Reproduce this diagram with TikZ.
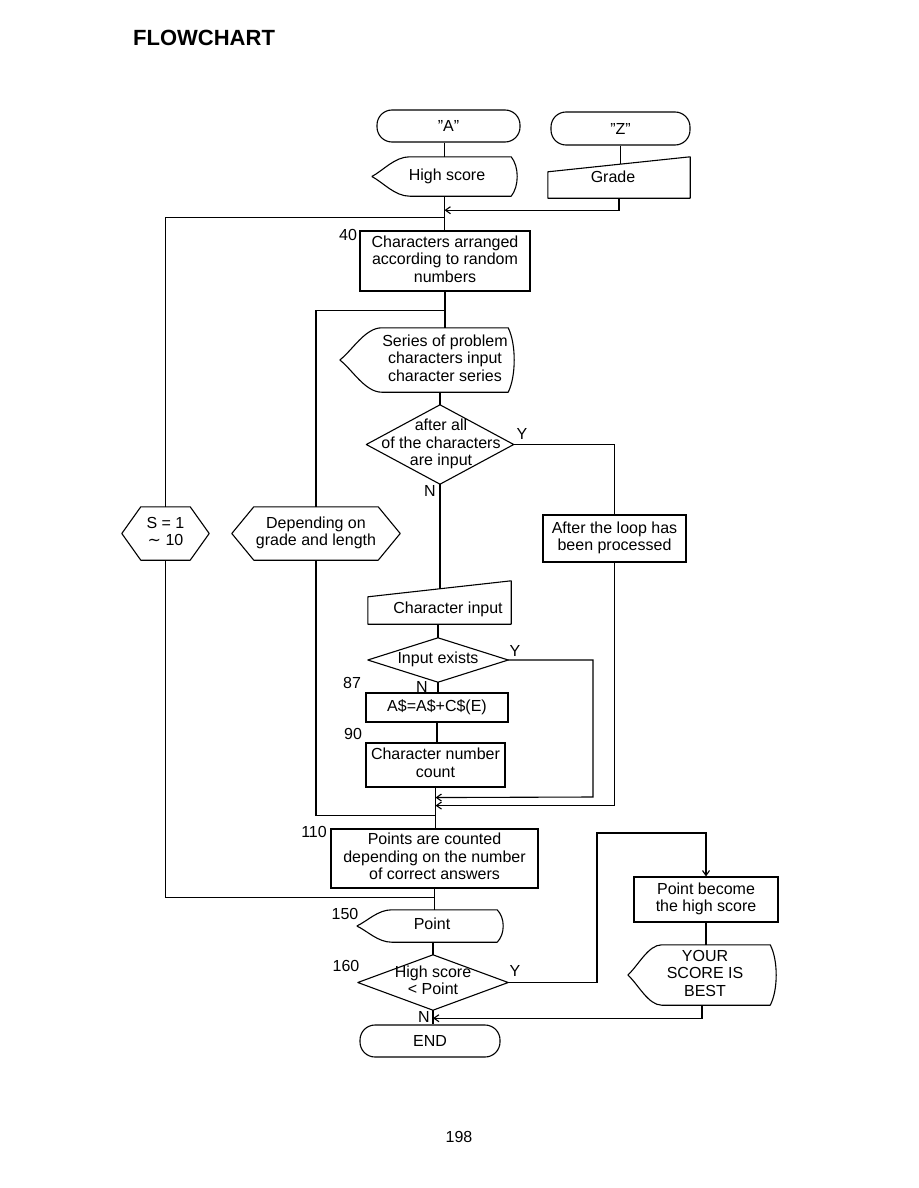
\documentclass[tikz,border=0pt]{standalone}
\usepackage{fontspec}
\setmainfont{Liberation Sans}
\newfontfamily\symfont{DejaVu Sans}
\usetikzlibrary{calc,arrows.meta}
\newcommand\ctext[2]{\hspace*{#1pt}\begin{tabular}{@{}c@{}}#2\end{tabular}}
\newcommand\dispout[2]{%
 \draw[outl] let \p1=(#1.north west), \p2=(#1.south east), \n1={\y1-\y2} in
  (\x1,{(\y1+\y2)/2}) .. controls ({\x1+0.3*#2},{\y1-0.35*\n1}) and ({\x1+0.6*#2},\y1) .. ({\x1+#2},\y1)
  -- ({\x2-6pt},\y1) .. controls ({\x2+2pt},{\y1-0.25*\n1}) and ({\x2+2pt},{\y2+0.25*\n1}) .. ({\x2-6pt},\y2)
  -- ({\x1+#2},\y2) .. controls ({\x1+0.6*#2},\y2) and ({\x1+0.3*#2},{\y2+0.35*\n1}) .. (\x1,{(\y1+\y2)/2});}
\newcommand\hexout[2]{\draw[outl] (#1.west) -- ([xshift=#2]#1.north west) -- ([xshift=-#2]#1.north east) -- (#1.east) -- ([xshift=-#2]#1.south east) -- ([xshift=#2]#1.south west) -- cycle;}
\newcommand\diaout[1]{\draw[outl] (#1.north) -- (#1.east) -- (#1.south) -- (#1.west) -- cycle;}
\newcommand\manout[3]{\draw[outl] (#1.south west) -- ([yshift=#2]#1.north west) -- ([yshift=#3]#1.north east) -- (#1.south east) -- cycle;}
\tikzset{
  every node/.style={font=\fontsize{16}{17.5}\selectfont, inner sep=0pt},
  term/.style={draw, line width=1.1pt, rounded corners=15pt},
  boxn/.style={draw, line width=1.1pt},
  outl/.style={line width=1.1pt, line join=round},
  conn/.style={line width=1.1pt},
  arr/.style={conn, -{Straight Barb[length=5pt,width=7pt]}},
  lbl/.style={font=\fontsize{16}{17.5}\selectfont}
}
\begin{document}
\begin{tikzpicture}[x=1pt,y=-1pt]
\useasboundingbox (0,0) rectangle (918,1188);
\node[anchor=west,font=\fontsize{22}{24}\selectfont\bfseries] (title) at (133,38) {FLOWCHART};

\node[term,minimum width=143,minimum height=32] (A) at (448.5,126) {"A"};
\node[term,minimum width=139,minimum height=33] (Z) at (620.5,128.5) {"Z"};
\node[minimum width=145,minimum height=39] (hs) at (444.5,176.5) {\ctext{5}{High score}};
\dispout{hs}{38pt}
\node[minimum width=142,minimum height=38] (grade) at (619,179) {\ctext{-12}{Grade}};
\manout{grade}{-12pt}{3pt}
\node[boxn,minimum width=170,minimum height=60] (chars) at (445,261) {\ctext{0}{Characters arranged\\according to random\\numbers}};
\node[lbl] (n40) at (348,235) {40};
\node[minimum width=87,minimum height=53] (S) at (165.5,533.5) {\ctext{0}{S = 1\\{\symfont ∼} 10}};
\hexout{S}{19pt}
\node[minimum width=174,minimum height=64] (series) at (427,360) {\ctext{36}{Series of problem\\characters input\\character series}};
\dispout{series}{42pt}
\node[minimum width=168,minimum height=53] (D) at (316,533.5) {\ctext{0}{Depending on\\grade and length}};
\hexout{D}{22pt}
\node[minimum width=147,minimum height=79] (dec1) at (440,444.5) {\ctext{2}{after all\\of the characters\\are input}};
\diaout{dec1}
\node[lbl] (y1) at (522,434) {Y};
\node[lbl] (n1) at (430,491) {N};
\node[boxn,minimum width=143,minimum height=47] (after) at (614.5,538.5) {\ctext{0}{After the loop has\\been processed}};
\node[minimum width=143,minimum height=28] (charin) at (439.5,610) {\ctext{17}{Character input}};
\manout{charin}{-1pt}{15pt}
\node[minimum width=140,minimum height=44] (ie) at (438,660) {\ctext{0}{Input exists}};
\diaout{ie}
\node[lbl] (y2) at (515,651) {Y};
\node[lbl] (n87) at (352,683) {87};
\node[lbl] (n2) at (422,687) {N};
\node[boxn,minimum width=142,minimum height=29] (asn) at (437,707.5) {A\$=A\$+C\$(E)};
\node[lbl] (n90) at (353,734) {90};
\node[boxn,minimum width=139,minimum height=44] (cnt) at (435.5,765) {\ctext{0}{Character number\\count}};
\node[boxn,minimum width=207,minimum height=59] (pts) at (434.5,858.5) {\ctext{0}{Points are counted\\depending on the number\\of correct answers}};
\node[lbl] (n110) at (314,832) {110};
\node[minimum width=146,minimum height=32] (pt) at (430,926) {\ctext{4}{Point}};
\dispout{pt}{35pt}
\node[lbl] (n150) at (345,914) {150};
\node[minimum width=150,minimum height=55] (dec2) at (433,982.5) {\ctext{0}{High score\\< Point}};
\diaout{dec2}
\node[lbl] (n160) at (346,966) {160};
\node[lbl] (y3) at (515,971) {Y};
\node[lbl] (n3) at (424,1017) {N};
\node[boxn,minimum width=144,minimum height=45] (pb) at (706,899.5) {\ctext{0}{Point become\\the high score}};
\node[minimum width=148,minimum height=60] (best) at (702,975) {\ctext{6}{YOUR\\SCORE IS\\BEST}};
\dispout{best}{34pt}
\node[term,minimum width=140,minimum height=32] (END) at (430,1041) {END};
\node[lbl] (page) at (459,1137) {198};

\coordinate (j0) at ($(hs.south)+(0,21)$);
\coordinate (j1) at ($(hs.south)+(0,14)$);
\coordinate (j2) at ($(chars.south)+(0,19)$);
\coordinate (grin) at (620.5,164.3);
\coordinate (ciin) at (440,589);
\coordinate (r1) at (593,797);
\coordinate (j3) at ($(cnt.south)+(0,10)$);
\coordinate (j4) at ($(cnt.south)+(0,18)$);
\coordinate (j5) at ($(cnt.south)+(0,28)$);
\coordinate (j6) at ($(pts.south)+(0,9)$);
\coordinate (r2) at (597,833);
\coordinate (j7) at ($(dec2.south)+(0,8)$);

\draw[conn] (A.south -| hs.north) -- (hs.north);
\draw[conn] (Z.south) -- (grin);
\draw[conn] (hs.south) -- (hs.south |- chars.north);
\draw[arr] (grade.south) |- (j1);
\draw[conn] (j0) -| (S.north);
\draw[conn] (S.south) |- (j6);
\draw[conn] (chars.south) -- (chars.south |- series.north);
\draw[conn] (j2) -| (D.north);
\draw[conn] (D.south) |- (j5);
\draw[conn] (dec1.north |- series.south) -- (dec1.north);
\draw[conn] (dec1.east) -| (after.north);
\draw[arr] (after.south) |- (j4);
\draw[conn] (dec1.south) -- (ciin);
\draw[conn] (charin.south -| ie.north) -- (ie.north);
\draw[arr] (ie.east) -| (r1) -- (j3);
\draw[conn] (ie.south) -- (ie.south |- asn.north);
\draw[conn] (asn.south) -- (asn.south |- cnt.north);
\draw[conn] (cnt.south) -- (cnt.south |- pts.north);
\draw[conn] (pts.south) -- (pts.south |- pt.north);
\draw[conn] (dec2.north |- pt.south) -- (dec2.north);
\draw[arr] (dec2.east) -| (r2) -| (pb.north);
\draw[conn] (pb.south) -- (pb.south |- best.north);
\draw[arr] (best.south) |- (j7);
\draw[conn] (dec2.south) -- (dec2.south |- END.north);
\end{tikzpicture}
\end{document}
